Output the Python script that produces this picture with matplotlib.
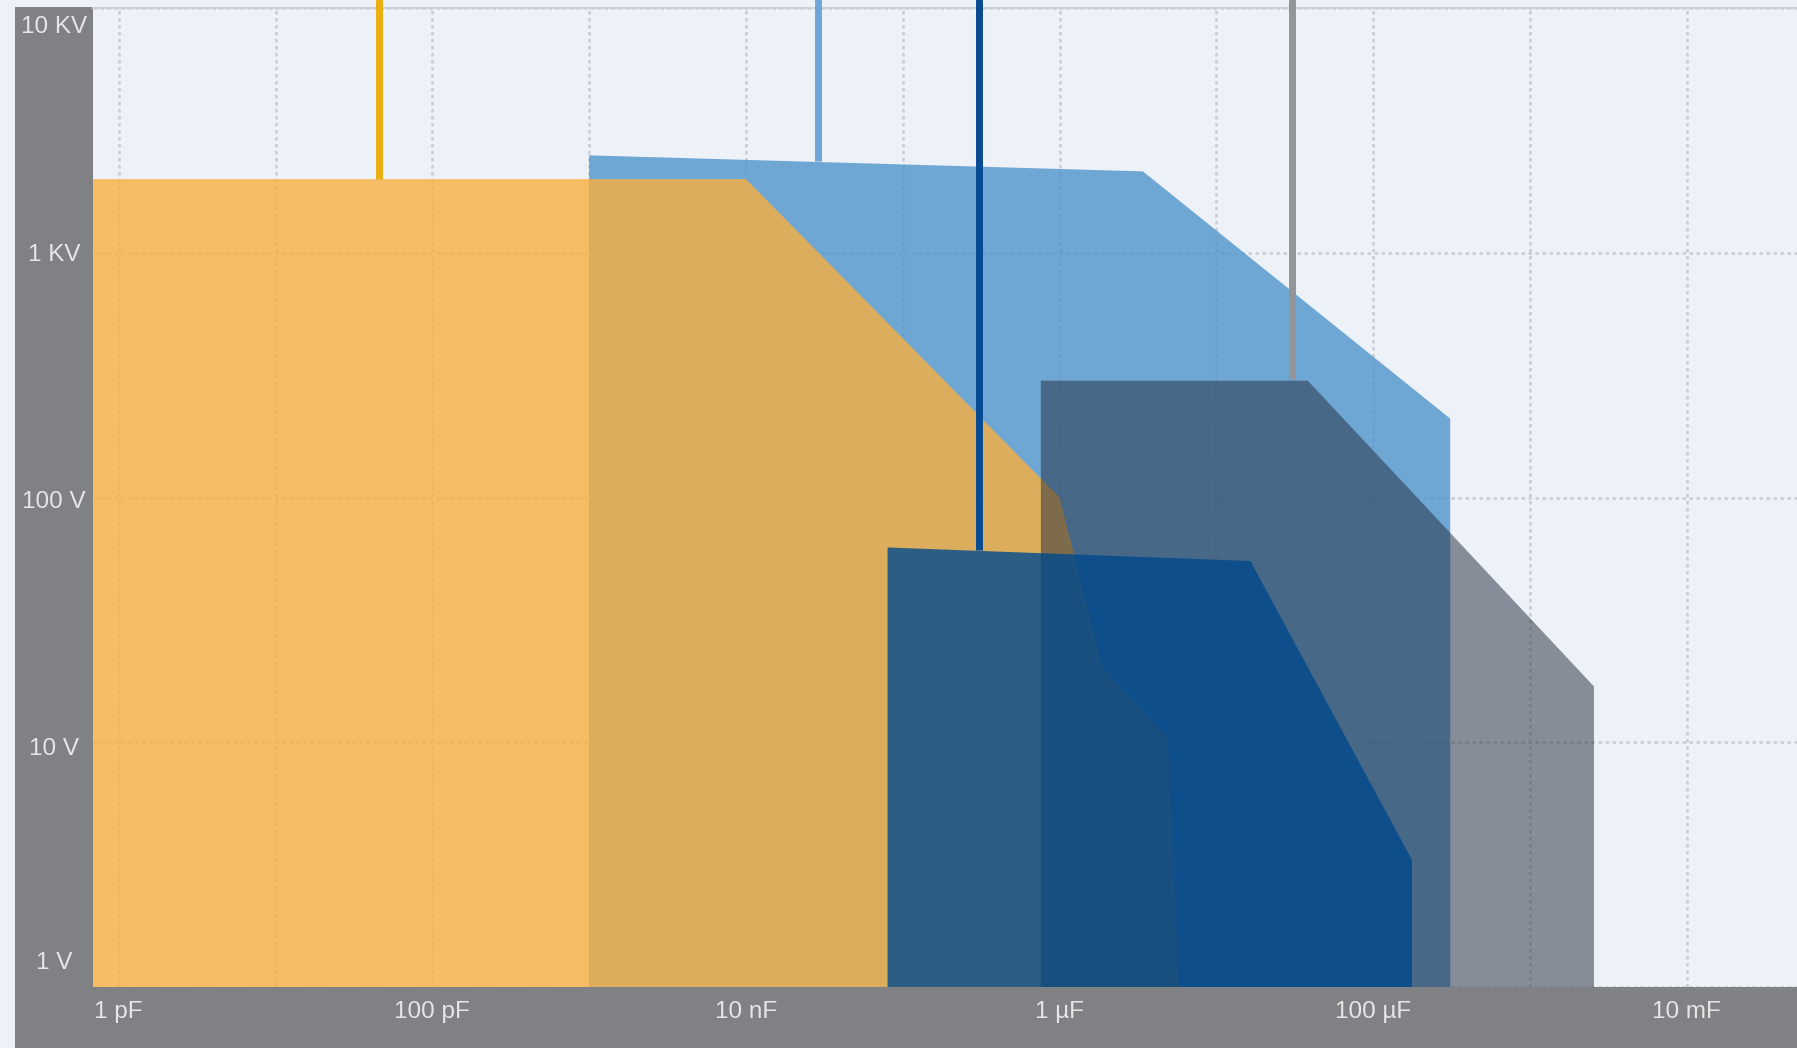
import matplotlib
matplotlib.use('Agg')
import matplotlib.pyplot as plt
from matplotlib.patches import Rectangle
from matplotlib.ticker import NullFormatter

plt.rcParams['font.family'] = ['Liberation Sans', 'DejaVu Sans']

# axis ticks
cap_ticks = [1e-12, 1e-10, 1e-8, 1e-6, 1e-4, 1e-2]
cap_labels = ['1 pF', '100 pF', '10 nF', '1 µF', '100 µF', '10 mF']
cap_grid = [1e-11, 1e-9, 1e-7, 1e-5, 1e-3]
volt_ticks = [1, 10, 100, 1000, 10000]
volt_labels = ['1 V', '10 V', '100 V', '1 KV', '10 KV']

# outline of each region (capacitance in F, voltage in V)
film_c = [1e-9, 3.4e-6, 3.1e-4]
film_v = [2500, 2150, 210]
ceramic_c = [5e-13, 1e-8, 1e-6, 1.9e-6, 4.9e-6, 5.8e-6]
ceramic_v = [2000, 2000, 100, 20, 10.4, 1]
alu_c = [7.6e-7, 3.83e-5, 2.56e-3]
alu_v = [300, 300, 16.9]
tant_c = [8.0e-8, 1.65e-5, 1.77e-4]
tant_v = [62.5, 55, 3.3]

# vertical marker lines: position and where they stop
marker_c = [4.6e-11, 2.88e-8, 3.05e-7, 3.05e-5]
marker_v = [2000, 2360, 61, 305]

bg = '#edf1f8'
panel = '#808185'
W, H = 1797, 1048

fig = plt.figure(figsize=(W / 100, H / 100), dpi=100, facecolor=bg)
ax = fig.add_axes([93 / W, 61 / H, (W - 93) / W, 979 / H], facecolor=bg)

fig.patches.append(Rectangle((15 / W, 0), 78 / W, (H - 7) / H, transform=fig.transFigure,
                             color=panel, lw=0, zorder=-1))
fig.patches.append(Rectangle((15 / W, 0), (W - 15) / W, 61 / H, transform=fig.transFigure,
                             color=panel, lw=0, zorder=-1))

ax.set_xscale('log')
ax.set_yscale('log')
ax.set_xlim(10 ** -12.164, 10 ** -1.297)
ax.set_ylim(10 ** 0.026, 1e4)


def region(cs, vs, color, alpha, z):
    xs = cs + [cs[-1], cs[0]]
    ys = vs + [1, 1]
    ax.fill(xs, ys, color=color, alpha=alpha, lw=0, zorder=z)


region(film_c, film_v, '#4f93cb', 0.8, 2)
region(ceramic_c, ceramic_v, '#f9b040', 0.8, 3)
region(alu_c, alu_v, '#222b3a', 0.5, 4)
region(tant_c, tant_v, '#00498d', 0.8, 5)

marker_cols = ['#edb012', '#6fa4d9', '#064b93', '#939598']
ax.vlines(marker_c, marker_v, [1.3e4] * 4, colors=marker_cols, linewidth=5,
          clip_on=False, zorder=6, capstyle='butt')

ax.minorticks_off()
ax.set_xticks(cap_ticks, cap_labels)
ax.set_xticks(cap_grid, minor=True)
ax.xaxis.set_minor_formatter(NullFormatter())
ax.set_yticks(volt_ticks, [''] * len(volt_ticks))
ax.tick_params(axis='x', which='both', length=0, pad=10, labelsize=17.5, labelcolor='#e6e6e6')
ax.tick_params(axis='y', which='both', length=0)

# y labels sit in the grey panel, nudged inside at the ends
label_dy = [13, -9, -7.5, -6.2, -18]
for v, lab, dy in zip(volt_ticks, volt_labels, label_dy):
    ax.annotate(lab, xy=(0, v), xycoords=('axes fraction', 'data'),
                xytext=(-28, dy), textcoords='offset points', ha='center',
                va='baseline', fontsize=17.5, color='#e6e6e6', annotation_clip=False)

ax.grid(True, which='both', color='#c9ccd2', linestyle=(0, (1.4, 1.4)), linewidth=1.8)
ax.set_axisbelow(True)
for s in ['left', 'right', 'bottom']:
    ax.spines[s].set_visible(False)
ax.spines['top'].set_color('#cfd1d5')
ax.spines['top'].set_linewidth(1.5)

fig.savefig('out.png', dpi=100, facecolor=bg)
